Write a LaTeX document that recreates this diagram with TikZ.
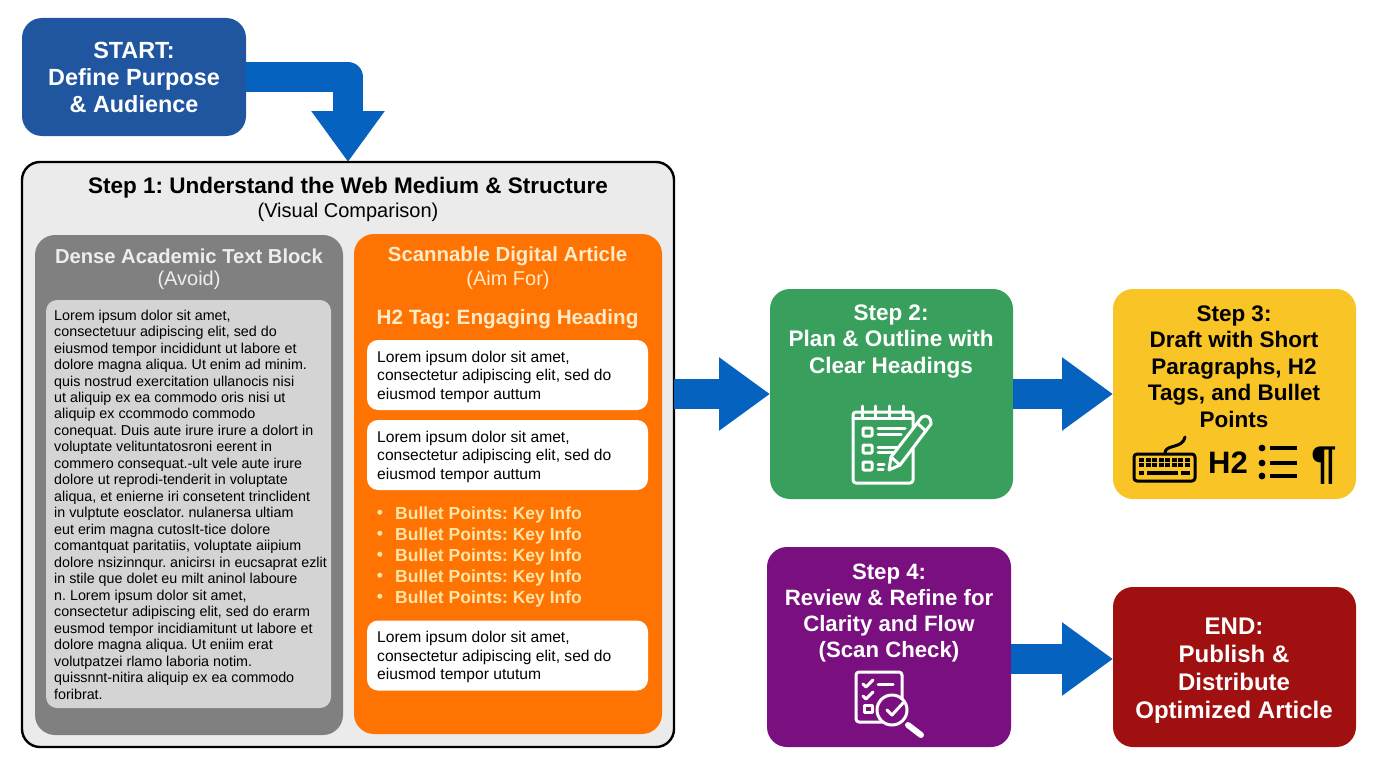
\documentclass[tikz,border=0pt]{standalone}
\usepackage{fontspec}
\setmainfont{Liberation Sans}
\usetikzlibrary{arrows.meta}
\frenchspacing

\definecolor{flowblue}{HTML}{0563BF}
\definecolor{startblue}{HTML}{1F569F}
\definecolor{stepgreen}{HTML}{38A05C}
\definecolor{stepyellow}{HTML}{F9C425}
\definecolor{steppurple}{HTML}{7A1080}
\definecolor{endred}{HTML}{A01010}
\definecolor{scanorange}{HTML}{FF7303}
\definecolor{creamtext}{HTML}{FFEBC8}
\definecolor{bullettext}{HTML}{FFE6A8}

\tikzset{
  box/.style={rounded corners=20pt, minimum width=#1, inner sep=0pt, outer sep=0pt},
  boldtext/.style={align=center, inner sep=0pt, font=\fontsize{22.5}{26.4}\selectfont\bfseries},
  lorem/.style={align=left, inner sep=0pt, anchor=west, text=black},
  fatarrow/.style={draw=flowblue, line width=30pt, -{Triangle[length=51pt,width=70pt]}},
  iconline/.style={line width=3pt, line cap=round, line join=round},
}

\begin{document}
\begin{tikzpicture}[x=1pt, y=-1pt]
  \useasboundingbox (0,0) rectangle (1376,768);

  % Boxes of the flow
  \node (start) [box=224pt, minimum height=118pt, fill=startblue] at (134,77) {};
  \node (panel) [box=652pt, minimum height=585pt, rounded corners=18pt, fill=black!8, draw=black, line width=2.4pt] at (348,454.5) {};
  \node (step2) [box=243pt, minimum height=210pt, fill=stepgreen] at (891.5,394) {};
  \node (step3) [box=243pt, minimum height=210pt, fill=stepyellow] at (1234.5,394) {};
  \node (step4) [box=244pt, minimum height=200pt, fill=steppurple] at (889,647) {};
  \node (finish) [box=243pt, minimum height=160pt, fill=endred] at (1234.5,667) {};

  % Block arrows
  \draw[fatarrow, line join=round] (start.east) -| (panel.north);
  \draw[fatarrow] (panel.east |- step2.west) -- (step2.west);
  \draw[fatarrow] (step2.east) -- (step3.west);
  \draw[fatarrow] ([yshift=-12pt]step4.east) -- ([yshift=8pt]finish.west);

  % Labels of the flow
  \node (startlabel) [boldtext, text=white, font=\fontsize{23.4}{27.4}\selectfont\bfseries] at (134,77.5) {START:\\Define Purpose\\\& Audience};
  \node (step2label) [boldtext, text=white] at (891,341.5) {Step 2:\\Plan \& Outline with\\Clear Headings};
  \node (step3label) [boldtext, text=black] at (1234,366.5) {Step 3:\\Draft with Short\\Paragraphs, H2\\Tags, and Bullet\\Points};
  \node (step4label) [boldtext, text=white, font=\fontsize{22.2}{26.2}\selectfont\bfseries] at (889,613) {Step 4:\\Review \& Refine for\\Clarity and Flow\\(Scan Check)};
  \node (endlabel) [boldtext, text=white, font=\fontsize{24}{28}\selectfont\bfseries] at (1234,670.5) {END:\\Publish \&\\Distribute\\Optimized Article};

  % Step 1 heading
  \node (paneltitle) [boldtext] at (348,188) {Step 1: Understand the Web Medium \& Structure};
  \node (panelsub) [inner sep=0pt, font=\fontsize{20}{23}\selectfont] at (348,212) {(Visual Comparison)};

  % Dense column
  \node (dense) [box=308pt, minimum height=500pt, fill=black!50] at (189,485) {};
  \node (densepage) [box=285pt, minimum height=408pt, rounded corners=11pt, fill=black!17] at (188.5,504) {};
  \node (densetitle) [boldtext, text=black!7, font=\fontsize{20.2}{24}\selectfont\bfseries] at (189,256.5) {Dense Academic Text Block};
  \node (densesub) [inner sep=0pt, text=black!7, font=\fontsize{20}{23}\selectfont] at (189,280) {(Avoid)};
  \node (densetext) [lorem, font=\fontsize{14.3}{16.48}\selectfont] at (54,504.5) {Lorem ipsum dolor sit amet,\\
    consectetuur adipiscing elit, sed do\\
    eiusmod tempor incididunt ut labore et\\
    dolore magna aliqua. Ut enim ad minim.\\
    quis nostrud exercitation ullanocis nisi\\
    ut aliquip ex ea commodo oris nisi ut\\
    aliquip ex ccommodo commodo\\
    conequat. Duis aute irure irure a dolort in\\
    voluptate velituntatosroni eerent in\\
    commero consequat.-ult vele aute irure\\
    dolore ut reprodi-tenderit in voluptate\\
    aliqua, et enierne iri consetent trinclident\\
    in vulptute eosclator. nulanersa ultiam\\
    eut erim magna cutosIt-tice dolore\\
    comantquat paritatiis, voluptate aiipium\\
    dolore nsizinnqur. anicirsı in eucsaprat ezlit\\
    in stile que dolet eu milt aninol laboure\\
    n. Lorem ipsum dolor sit amet,\\
    consectetur adipiscing elit, sed do erarm\\
    eusmod tempor incidiamitunt ut labore et\\
    dolore magna aliqua. Ut eniim erat\\
    volutpatzei rlamo laboria notim.\\
    quissnnt-nitira aliquip ex ea commodo\\
    foribrat.};

  % Scannable column
  \node (scan) [box=308pt, minimum height=500pt, fill=scanorange] at (508,484) {};
  \node (scantitle) [boldtext, text=creamtext, font=\fontsize{20.4}{24}\selectfont\bfseries] at (507.5,256.5) {Scannable Digital Article};
  \node (scansub) [inner sep=0pt, text=creamtext, font=\fontsize{20}{23}\selectfont] at (508,280) {(Aim For)};
  \node (scanhead) [boldtext, text=creamtext, font=\fontsize{20.7}{25}\selectfont\bfseries] at (507.5,319) {H2 Tag: Engaging Heading};

  \foreach \name/\y/\last in {one/375/auttum, two/455/auttum, three/655.5/ututum} {
    \node (card\name) [box=281pt, minimum height=70pt, rounded corners=11pt, fill=white] at (507.5,\y) {};
    \node (card\name text) [lorem, font=\fontsize{15.6}{18.5}\selectfont] at (377,\y+1.5) {Lorem ipsum dolor sit amet,\\consectetur adipiscing elit, sed do\\eiusmod tempor \last};
  }

  \foreach \y [count=\i] in {513,534,555,576,597} {
    \node (dot\i) [inner sep=0pt, text=bullettext, font=\fontsize{17.5}{20}\selectfont\bfseries] at (380,\y+1) {\textbullet};
    \node (item\i) [lorem, text=bullettext, font=\fontsize{17.5}{20}\selectfont\bfseries] at (395,\y+2) {Bullet Points: Key Info};
  }

  % Notebook icon
  \begin{scope}[iconline, draw=white]
    \draw[rounded corners=3pt] (853,412) rectangle (913,483);
    \foreach \x in {862,875,889,903} \draw (\x,406) -- (\x,417);
    \draw (853,418) -- (913,418);
    \foreach \y in {428,445,462} \draw[rounded corners=1pt] (863,\y) rectangle (872,\y+8);
    \draw (878,428) -- (905,428);
    \draw (878,434) -- (901,434);
    \draw (878,447) -- (897,447);
    \draw (878,452) -- (893,452);
    \draw (878,464) -- (884,464);
    \draw (878,469) -- (883,469);
    \draw[fill=stepgreen] (889,470) -- (891,457) -- (922,417) .. controls (926,414) and (932,418) .. (931,424) -- (900,465) -- cycle;
    \draw (891,457) -- (900,465);
    \draw (917,423) -- (926,431);
  \end{scope}

  % Step 3 icons
  \begin{scope}[iconline, draw=black, line width=3pt]
    \draw[rounded corners=3pt] (1134,454) rectangle (1195,481);
    \draw (1165,453) .. controls (1165,444) and (1183,449) .. (1185,437);
    \foreach \y in {457.5,463} \foreach \x in {1139,1145.5,...,1186}
      \fill (\x,\y) rectangle (\x+5,\y+4);
    \fill (1139,471) rectangle (1144,475);
    \fill (1147,471) rectangle (1178,475);
    \fill (1181,471) rectangle (1190,475);
    \foreach \y in {448,463,476} {
      \fill (1262,\y) circle (3.4pt);
      \draw[line width=3.6pt, line cap=butt] (1270,\y) -- (1297,\y);
    }
  \end{scope}
  \node (htwo) [inner sep=0pt, font=\fontsize{31}{34}\selectfont\bfseries] at (1228,463) {H2};
  \node (pilcrow) [inner sep=0pt, font=\fontsize{46}{50}\selectfont\bfseries] at (1324,466) {¶};

  % Review icon
  \begin{scope}[iconline, draw=white]
    \draw[rounded corners=3pt] (856,672) rectangle (902,722);
    \draw (863,684) -- (866,687) -- (873,680);
    \draw (878,684) -- (893,684);
    \draw (863,696) -- (866,699) -- (873,692);
    \draw (864,705) rectangle (872,712);
    \draw[fill=steppurple] (892,710) circle (15pt);
    \draw (887,710) -- (892,715) -- (903,703);
    \draw[line width=6pt] (908,725) -- (921,735);
  \end{scope}
\end{tikzpicture}
\end{document}
